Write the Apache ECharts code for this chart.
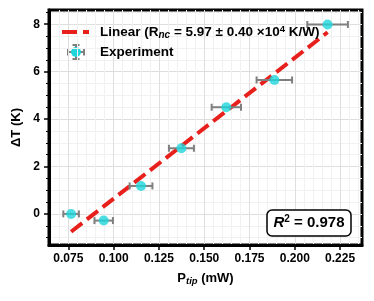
<!DOCTYPE html>
<html>
<head>
<meta charset="utf-8">
<script src="https://cdn.jsdelivr.net/npm/echarts@6/dist/echarts.min.js"></script>
<style>html,body{margin:0;padding:0;background:#fff;}#c{width:374px;height:301px;}</style>
</head>
<body>
<div id="c"></div>
<script>
// ---- data ----
const P_tip = [0.0765, 0.0945, 0.1151, 0.1374, 0.1622, 0.1887, 0.2181];   // mW
const deltaT = [0.00, -0.28, 1.18, 2.77, 4.50, 5.65, 7.99];             // K
const P_err = [0.0043, 0.0051, 0.0063, 0.0069, 0.0081, 0.0098, 0.0112]; // mW
const fitX = [0.0765, 0.2181];
const fitY = [-0.75, 7.66];
const xTicks = [0.075, 0.100, 0.125, 0.150, 0.175, 0.200, 0.225];
const xMinor = [0.065,0.07,0.08,0.085,0.09,0.095,0.105,0.11,0.115,0.12,0.13,0.135,0.14,0.145,0.155,0.16,0.165,0.17,0.18,0.185,0.19,0.195,0.205,0.21,0.215,0.22,0.23,0.235];
const yTicks = [0, 2, 4, 6, 8];
const yMinor = [-1,-0.5,0.5,1,1.5,2.5,3,3.5,4.5,5,5.5,6.5,7,7.5,8.5];
const XMIN = 0.0643, XMAX = 0.2371, YMIN = -1.31, YMAX = 8.6;

const FONT = '"Liberation Sans", Arial, sans-serif';
const RED = '#e8201c', CYAN = '#1ed6dc', GRAY = '#7f7f7f';

const chart = echarts.init(document.getElementById('c'), null, {renderer: 'canvas'});

const expData = P_tip.map((p, i) => [p, deltaT[i], P_err[i]]);
const fitData = fitX.map((x, i) => [x, fitY[i]]);

const option = {
  animation: false,
  backgroundColor: '#fff',
  grid: {left: 49, right: 12, top: 10, bottom: 56, show: true, borderColor: '#000', borderWidth: 3, backgroundColor: 'transparent'},
  xAxis: [{
    type: 'value', min: XMIN, max: XMAX, position: 'bottom',
    name: '{b|P}{s|tip}{b| (mW)}', nameLocation: 'middle', nameGap: 25,
    nameTextStyle: {rich: {
      b: {fontFamily: FONT, fontWeight: 'bold', fontSize: 13, color: '#000', lineHeight: 16, verticalAlign: 'middle'},
      s: {fontFamily: FONT, fontWeight: 'bold', fontStyle: 'italic', fontSize: 9.5, color: '#000', verticalAlign: 'bottom', lineHeight: 16}
    }},
    axisLine: {show: true, onZero: false, lineStyle: {color: '#000', width: 3}},
    axisTick: {show: true, customValues: xTicks, length: 5, lineStyle: {color: '#000', width: 1.5}},
    axisLabel: {customValues: xTicks, formatter: v => v.toFixed(3), fontFamily: FONT, fontWeight: 'bold', fontSize: 12, color: '#000', margin: 8},
    splitLine: {show: true, lineStyle: {color: '#dedede', width: 1}}
  }, {
    type: 'value', min: XMIN, max: XMAX, position: 'bottom',
    axisLine: {show: false},
    axisTick: {show: false, customValues: xMinor},
    axisLabel: {show: false},
    splitLine: {show: true, lineStyle: {color: '#f1f1f1', width: 1}}
  }],
  yAxis: [{
    type: 'value', min: YMIN, max: YMAX, position: 'left',
    name: 'ΔT (K)', nameLocation: 'middle', nameGap: 19,
    nameTextStyle: {fontFamily: FONT, fontWeight: 'bold', fontSize: 13, color: '#000'},
    axisLine: {show: true, onZero: false, lineStyle: {color: '#000', width: 3}},
    axisTick: {show: true, customValues: yTicks, length: 5, lineStyle: {color: '#000', width: 1.5}},
    axisLabel: {customValues: yTicks, fontFamily: FONT, fontWeight: 'bold', fontSize: 12, color: '#000', margin: 9},
    splitLine: {show: true, lineStyle: {color: '#dedede', width: 1}}
  }, {
    type: 'value', min: YMIN, max: YMAX, position: 'left',
    axisLine: {show: false},
    axisTick: {show: true, customValues: yMinor, length: 3, lineStyle: {color: '#000', width: 1}},
    axisLabel: {show: false},
    splitLine: {show: true, lineStyle: {color: '#f1f1f1', width: 1}}
  }],
  series: [{
    name: 'Linear', type: 'line', xAxisIndex: 0, yAxisIndex: 0,
    data: fitData, showSymbol: false, symbol: 'none', z: 3,
    lineStyle: {color: RED, width: 4, type: [14, 6], cap: 'butt'}
  }, {
    name: 'err', type: 'custom', xAxisIndex: 0, yAxisIndex: 0, z: 4,
    data: expData,
    renderItem: function (params, api) {
      const x = api.value(0), y = api.value(1), e = api.value(2);
      const a = api.coord([x - e, y]), b = api.coord([x + e, y]);
      const st = {stroke: GRAY, lineWidth: 2};
      return {type: 'group', children: [
        {type: 'line', shape: {x1: a[0], y1: a[1], x2: b[0], y2: b[1]}, style: st},
        {type: 'line', shape: {x1: a[0], y1: a[1] - 3.5, x2: a[0], y2: a[1] + 3.5}, style: st},
        {type: 'line', shape: {x1: b[0], y1: b[1] - 3.5, x2: b[0], y2: b[1] + 3.5}, style: st}
      ]};
    }
  }, {
    name: 'Experiment', type: 'scatter', xAxisIndex: 0, yAxisIndex: 0, z: 5,
    data: expData.map(d => [d[0], d[1]]), symbol: 'circle', symbolSize: 10,
    itemStyle: {color: CYAN}
  }],
  graphic: [
    {type: 'line', z: 100, shape: {x1: 62, y1: 32, x2: 89, y2: 32}, style: {stroke: RED, lineWidth: 4, lineDash: [15, 6]}},
    {type: 'group', z: 100, children: [
      {type: 'line', shape: {x1: 68, y1: 52, x2: 84, y2: 52}, style: {stroke: GRAY, lineWidth: 2}},
      {type: 'line', shape: {x1: 68, y1: 48.5, x2: 68, y2: 55.5}, style: {stroke: GRAY, lineWidth: 2}},
      {type: 'line', shape: {x1: 84, y1: 48.5, x2: 84, y2: 55.5}, style: {stroke: GRAY, lineWidth: 2}},
      {type: 'line', shape: {x1: 76, y1: 45, x2: 76, y2: 59}, style: {stroke: GRAY, lineWidth: 2}},
      {type: 'line', shape: {x1: 72.5, y1: 45, x2: 79.5, y2: 45}, style: {stroke: GRAY, lineWidth: 2}},
      {type: 'line', shape: {x1: 72.5, y1: 59, x2: 79.5, y2: 59}, style: {stroke: GRAY, lineWidth: 2}},
      {type: 'circle', shape: {cx: 76, cy: 52, r: 5}, style: {fill: CYAN}}
    ]},
    {type: 'text', z: 100, x: 100, y: 32, style: {
      text: '{b|Linear (R}{sub|nc}{b| = 5.97 ± 0.40 ×10}{sup|4}{b| K/W)}',
      verticalAlign: 'middle', align: 'left',
      rich: {
        b: {fontFamily: FONT, fontWeight: 'bold', fontSize: 13.5, fill: '#000', lineHeight: 16, verticalAlign: 'middle'},
        sub: {fontFamily: FONT, fontWeight: 'bold', fontStyle: 'italic', fontSize: 10, fill: '#000', lineHeight: 16, verticalAlign: 'bottom'},
        sup: {fontFamily: FONT, fontWeight: 'bold', fontSize: 9.5, fill: '#000', lineHeight: 16, verticalAlign: 'top'}
      }
    }},
    {type: 'text', z: 100, x: 100, y: 52, style: {
      text: 'Experiment', verticalAlign: 'middle', align: 'left',
      font: 'bold 13.5px ' + FONT, fill: '#000'
    }},
    {type: 'rect', z: 100, shape: {x: 267, y: 210, width: 84, height: 26, r: 5}, style: {fill: '#fff', stroke: '#000', lineWidth: 1.5}},
    {type: 'text', z: 101, x: 309, y: 223, style: {
      text: '{i|R}{sup|2}{b| = 0.978}', verticalAlign: 'middle', align: 'center',
      rich: {
        i: {fontFamily: FONT, fontWeight: 'bold', fontStyle: 'italic', fontSize: 15, fill: '#000', lineHeight: 18, verticalAlign: 'middle'},
        sup: {fontFamily: FONT, fontWeight: 'bold', fontSize: 10, fill: '#000', lineHeight: 18, verticalAlign: 'top'},
        b: {fontFamily: FONT, fontWeight: 'bold', fontSize: 15, fill: '#000', lineHeight: 18, verticalAlign: 'middle'}
      }
    }}
  ]
};
chart.setOption(option);
</script>
</body>
</html>
